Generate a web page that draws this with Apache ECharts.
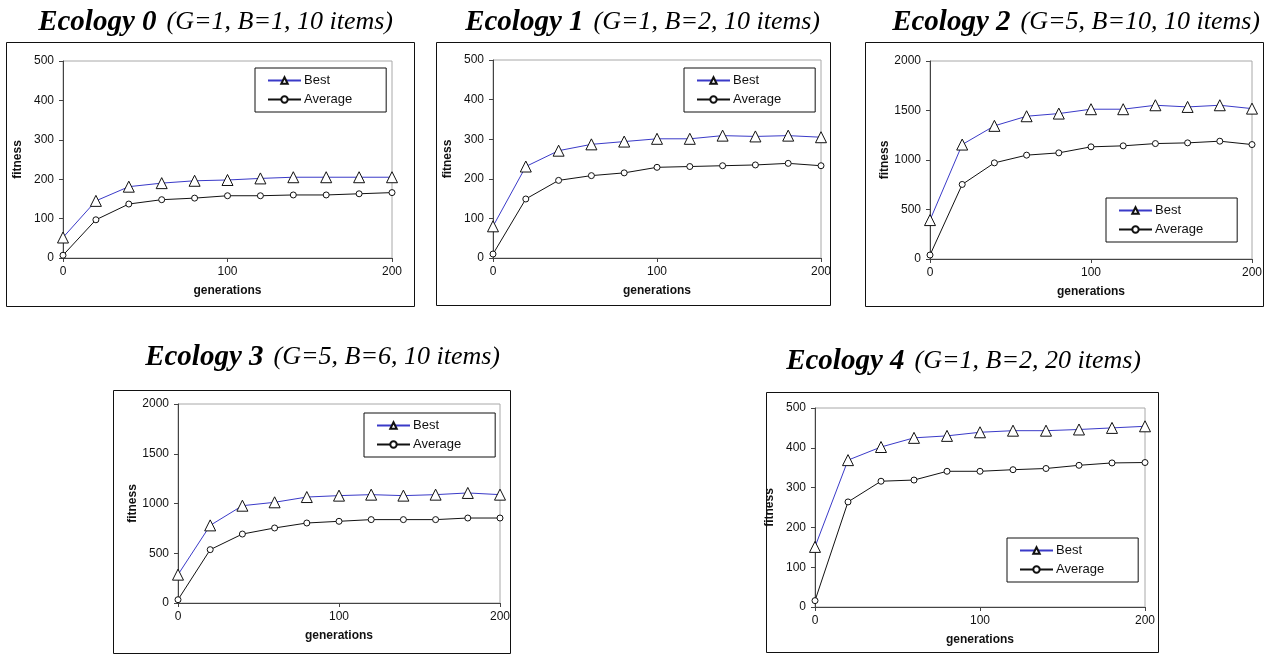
<!DOCTYPE html>
<html>
<head>
<meta charset="utf-8">
<script src="https://cdn.jsdelivr.net/npm/echarts@6/dist/echarts.min.js"></script>
<style>
  html, body { margin: 0; padding: 0; background: #fff; }
  #chart { width: 1269px; height: 655px; }
</style>
</head>
<body>
<div id="chart"></div>
<script>
(function (window, document) {
    'use strict';
    // generations sampled every 20
    var gens = [0, 20, 40, 60, 80, 100, 120, 140, 160, 180, 200];

    var titles = [
        ['Ecology 0', '(G=1, B=1, 10 items)'],
        ['Ecology 1', '(G=1, B=2, 10 items)'],
        ['Ecology 2', '(G=5, B=10, 10 items)'],
        ['Ecology 3', '(G=5, B=6, 10 items)'],
        ['Ecology 4', '(G=1, B=2, 20 items)']
    ];
    var yMax = [500, 500, 2000, 2000, 500];
    var yStep = [100, 100, 500, 500, 100];

    var best0 = [52, 145, 181, 190, 196, 198, 202, 205, 205, 205, 205];
    var avg0 = [7, 97, 137, 148, 152, 158, 158, 160, 160, 163, 166];
    var best1 = [80, 231, 271, 287, 294, 301, 301, 309, 307, 309, 305];
    var avg1 = [10, 149, 196, 208, 215, 229, 231, 233, 235, 239, 233];
    var best2 = [393, 1156, 1345, 1442, 1469, 1513, 1513, 1553, 1536, 1553, 1519];
    var avg2 = [40, 753, 971, 1049, 1072, 1133, 1143, 1166, 1173, 1190, 1156];
    var best3 = [285, 780, 978, 1012, 1065, 1079, 1089, 1079, 1089, 1106, 1089];
    var avg3 = [33, 536, 693, 754, 804, 821, 838, 838, 838, 854, 854];
    var best4 = [151, 369, 402, 425, 430, 439, 443, 443, 446, 450, 454];
    var avg4 = [16, 264, 316, 319, 341, 341, 345, 348, 356, 362, 363];

    var bestSets = [best0, best1, best2, best3, best4];
    var avgSets = [avg0, avg1, avg2, avg3, avg4];

    // layout: outer box, plot area, legend box, title (right edge offset, top)
    var layout = [
        { box: [6, 42, 408, 264], plot: [63, 61, 329, 197], legend: [255, 68], title: [876, 8] },
        { box: [436, 42, 394, 263], plot: [493, 60, 328, 198], legend: [684, 68], title: [449, 8] },
        { box: [865, 42, 398, 264], plot: [930, 61, 322, 198], legend: [1106, 198], title: [9, 8] },
        { box: [113, 390, 397, 263], plot: [178, 404, 322, 199], legend: [364, 413], title: [769, 343] },
        { box: [766, 392, 392, 260], plot: [815, 408, 330, 199], legend: [1007, 538], title: [128, 347] }
    ];

    var sansFont = 'Arial, "Liberation Sans", sans-serif';
    var serifFont = '"Liberation Serif", "Times New Roman", serif';
    var BLUE = '#3a3ac8';

    function pairs(ys) {
        return gens.map(function (g, i) { return [g, ys[i]]; });
    }

    var option = {
        backgroundColor: '#fff',
        animation: false,
        title: [],
        legend: [],
        grid: [],
        xAxis: [],
        yAxis: [],
        series: [],
        graphic: []
    };

    layout.forEach(function (L, i) {
        option.graphic.push({
            type: 'rect',
            shape: { x: L.box[0] + 0.5, y: L.box[1] + 0.5, width: L.box[2], height: L.box[3] },
            style: { fill: 'none', stroke: '#111', lineWidth: 1 },
            silent: true,
            z: 1
        });
        option.title.push({
            right: L.title[0],
            top: L.title[1],
            padding: 0,
            text: '{a|' + titles[i][0] + '}  {b|' + titles[i][1] + '}',
            textStyle: {
                fontWeight: 'normal',
                rich: {
                    a: { fontFamily: serifFont, fontStyle: 'italic', fontWeight: 'bold', fontSize: 29, color: '#000' },
                    b: { fontFamily: serifFont, fontStyle: 'italic', fontWeight: 'normal', fontSize: 26, color: '#000' }
                }
            }
        });
        option.grid.push({
            left: L.plot[0], top: L.plot[1], width: L.plot[2], height: L.plot[3],
            show: true, borderColor: '#a8a8a8', borderWidth: 1, backgroundColor: 'transparent'
        });
        option.xAxis.push({
            type: 'value', gridIndex: i, min: 0, max: 200, interval: 100,
            name: 'generations', nameLocation: 'middle', nameGap: 27,
            nameTextStyle: { fontFamily: sansFont, fontWeight: 'bold', fontSize: 12, color: '#111' },
            axisLine: { onZero: false, lineStyle: { color: '#444', width: 1 } },
            axisTick: { show: true, length: 4, lineStyle: { color: '#444' } },
            axisLabel: { fontFamily: sansFont, fontSize: 12, color: '#111', margin: 8 },
            splitLine: { show: false }
        });
        option.yAxis.push({
            type: 'value', gridIndex: i, min: 0, max: yMax[i], interval: yStep[i],
            name: 'fitness', nameLocation: 'middle', nameGap: 39, nameRotate: 90,
            nameTextStyle: { fontFamily: sansFont, fontWeight: 'bold', fontSize: 12, color: '#111' },
            axisLine: { show: true, lineStyle: { color: '#444', width: 1 } },
            axisTick: { show: true, length: 4, lineStyle: { color: '#444' } },
            axisLabel: {
                fontFamily: sansFont, fontSize: 12, color: '#111', margin: 9,
                formatter: function (v) { return String(v); }
            },
            splitLine: { show: false }
        });
        option.series.push({
            name: 'Best', type: 'line', xAxisIndex: i, yAxisIndex: i,
            data: pairs(bestSets[i]),
            symbol: 'triangle', symbolSize: 11, showAllSymbol: true,
            lineStyle: { color: BLUE, width: 1 },
            itemStyle: { color: '#fff', borderColor: '#111', borderWidth: 1 },
            z: 3
        });
        option.series.push({
            name: 'Average', type: 'line', xAxisIndex: i, yAxisIndex: i,
            data: pairs(avgSets[i]),
            symbol: 'circle', symbolSize: 6, showAllSymbol: true,
            lineStyle: { color: '#111', width: 1 },
            itemStyle: { color: '#fff', borderColor: '#111', borderWidth: 1 },
            z: 2
        });
        option.legend.push({
            left: L.legend[0], top: L.legend[1],
            orient: 'vertical',
            data: ['Best', 'Average'],
            backgroundColor: '#fff',
            borderColor: '#111', borderWidth: 1,
            padding: [6, 34, 6, 12],
            itemWidth: 33, itemHeight: 8, itemGap: 6,
            selectedMode: false,
            textStyle: { fontFamily: sansFont, fontSize: 13, color: '#111', padding: [0, 0, 0, -2] }
        });
    });

    var chart = echarts.init(document.getElementById('chart'), null, { renderer: 'canvas' });
    chart.setOption(option);
})(window, document);
</script>
</body>
</html>
